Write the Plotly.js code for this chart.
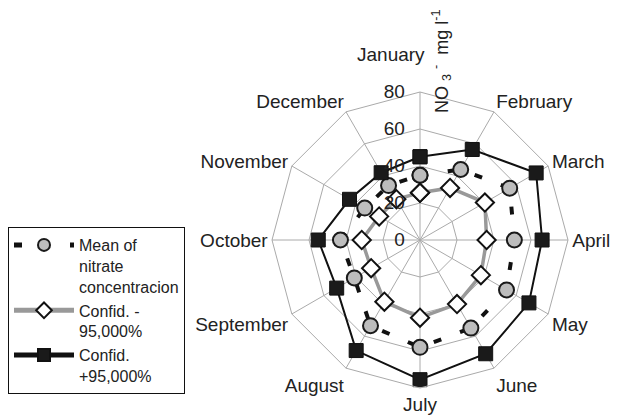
<!DOCTYPE html>
<html>
<head>
<meta charset="utf-8">
<script src="https://cdn.plot.ly/plotly-3.0.1.min.js"></script>
<style>
  html, body { margin: 0; padding: 0; background: #fff; }
  #chart { width: 618px; height: 416px; }
</style>
</head>
<body>
<div id="chart"></div>
<script>
// Monthly nitrate concentration (NO3- mg l-1) with 95% confidence bounds
const months = ['January', 'February', 'March', 'April', 'May', 'June',
                'July', 'August', 'September', 'October', 'November', 'December'];
const meanNitrate = [35, 44, 56, 51, 54, 55, 58, 53.5, 41, 43, 34.5, 34];
const lowerConf   = [25.5, 32.5, 40.5, 36, 38, 40, 42, 38.5, 30.5, 31.5, 25.5, 25.5];
const upperConf   = [45, 56.5, 72.5, 66, 68, 71, 75.5, 69, 52, 55, 44, 42];
const radialTicks = [0, 20, 40, 60, 80];

const FONT = 'Arial, "Liberation Sans", sans-serif';
const W = 618, H = 416;
const cx = 420, cy = 240, R = 148;

// repeat the first point so each ring closes
const closed = arr => arr.concat([arr[0]]);

// the top month label is set beside the axis title rather than on the spoke
const angularText = months.map((m, i) => (i === 0 ? '' : m));

const traces = [
  {
    type: 'scatterpolar',
    name: 'Mean of<br>nitrate<br>concentracion',
    theta: closed(months),
    r: closed(meanNitrate),
    mode: 'lines+markers',
    line: { color: '#111', width: 4, dash: '8px,20px' },
    marker: { symbol: 'circle', size: 15, color: '#bdbdbd', line: { color: '#1a1a1a', width: 2 } }
  },
  {
    type: 'scatterpolar',
    name: 'Confid. -<br>95,000%',
    theta: closed(months),
    r: closed(lowerConf),
    mode: 'lines+markers',
    line: { color: '#999', width: 3.5 },
    marker: { symbol: 'diamond', size: 14, color: '#fff', line: { color: '#111', width: 2 } }
  },
  {
    type: 'scatterpolar',
    name: 'Confid.<br>+95,000%',
    theta: closed(months),
    r: closed(upperConf),
    mode: 'lines+markers',
    line: { color: '#111', width: 2 },
    marker: { symbol: 'square', size: 14, color: '#1a1a1a', line: { color: '#111', width: 1 } }
  }
];

const layout = {
  width: W, height: H,
  margin: { l: 0, r: 0, t: 0, b: 0 },
  paper_bgcolor: '#fff',
  font: { family: FONT, color: '#222', size: 16 },
  showlegend: true,
  legend: {
    x: 8 / W, xanchor: 'left',
    y: 1 - 227 / H, yanchor: 'top',
    bgcolor: '#fff', bordercolor: '#111', borderwidth: 1,
    font: { family: FONT, size: 16, color: '#222' },
    itemwidth: 60, itemsizing: 'constant', valign: 'top', traceorder: 'normal',
    tracegroupgap: 8
  },
  polar: {
    domain: { x: [(cx - R) / W, (cx + R) / W], y: [(H - cy - R) / H, (H - cy + R) / H] },
    gridshape: 'linear',
    bgcolor: 'rgba(0,0,0,0)',
    angularaxis: {
      type: 'category',
      categoryarray: months,
      tickvals: months,
      ticktext: angularText,
      rotation: 90,
      direction: 'clockwise',
      showline: true, linecolor: '#aaa', linewidth: 1,
      showgrid: true, gridcolor: '#aaa', gridwidth: 1,
      ticks: '',
      tickfont: { family: FONT, size: 19, color: '#222' }
    },
    radialaxis: {
      range: [0, 80],
      tickvals: radialTicks,
      angle: 90,
      side: 'counterclockwise',
      tickangle: 90,
      showline: false,
      showgrid: true, gridcolor: '#aaa', gridwidth: 1,
      ticks: 'outside', ticklen: 8, tickcolor: 'rgba(0,0,0,0)',
      tickfont: { family: FONT, size: 19, color: '#222' },
      layer: 'above traces'
    }
  },
  annotations: [
    {
      xref: 'paper', yref: 'paper',
      x: 441 / W, y: 1 - 62 / H,
      xanchor: 'center', yanchor: 'middle',
      textangle: -90,
      showarrow: false,
      text: 'NO <sub>3</sub> <sup>-</sup>  mg l<sup>-1</sup>',
      font: { family: FONT, size: 18, color: '#222' }
    },
    {
      xref: 'paper', yref: 'paper',
      x: 391 / W, y: 1 - 55 / H,
      xanchor: 'center', yanchor: 'middle',
      showarrow: false,
      text: months[0],
      font: { family: FONT, size: 19, color: '#222' }
    }
  ]
};

Plotly.newPlot('chart', traces, layout, { displayModeBar: false, staticPlot: true });
</script>
</body>
</html>
